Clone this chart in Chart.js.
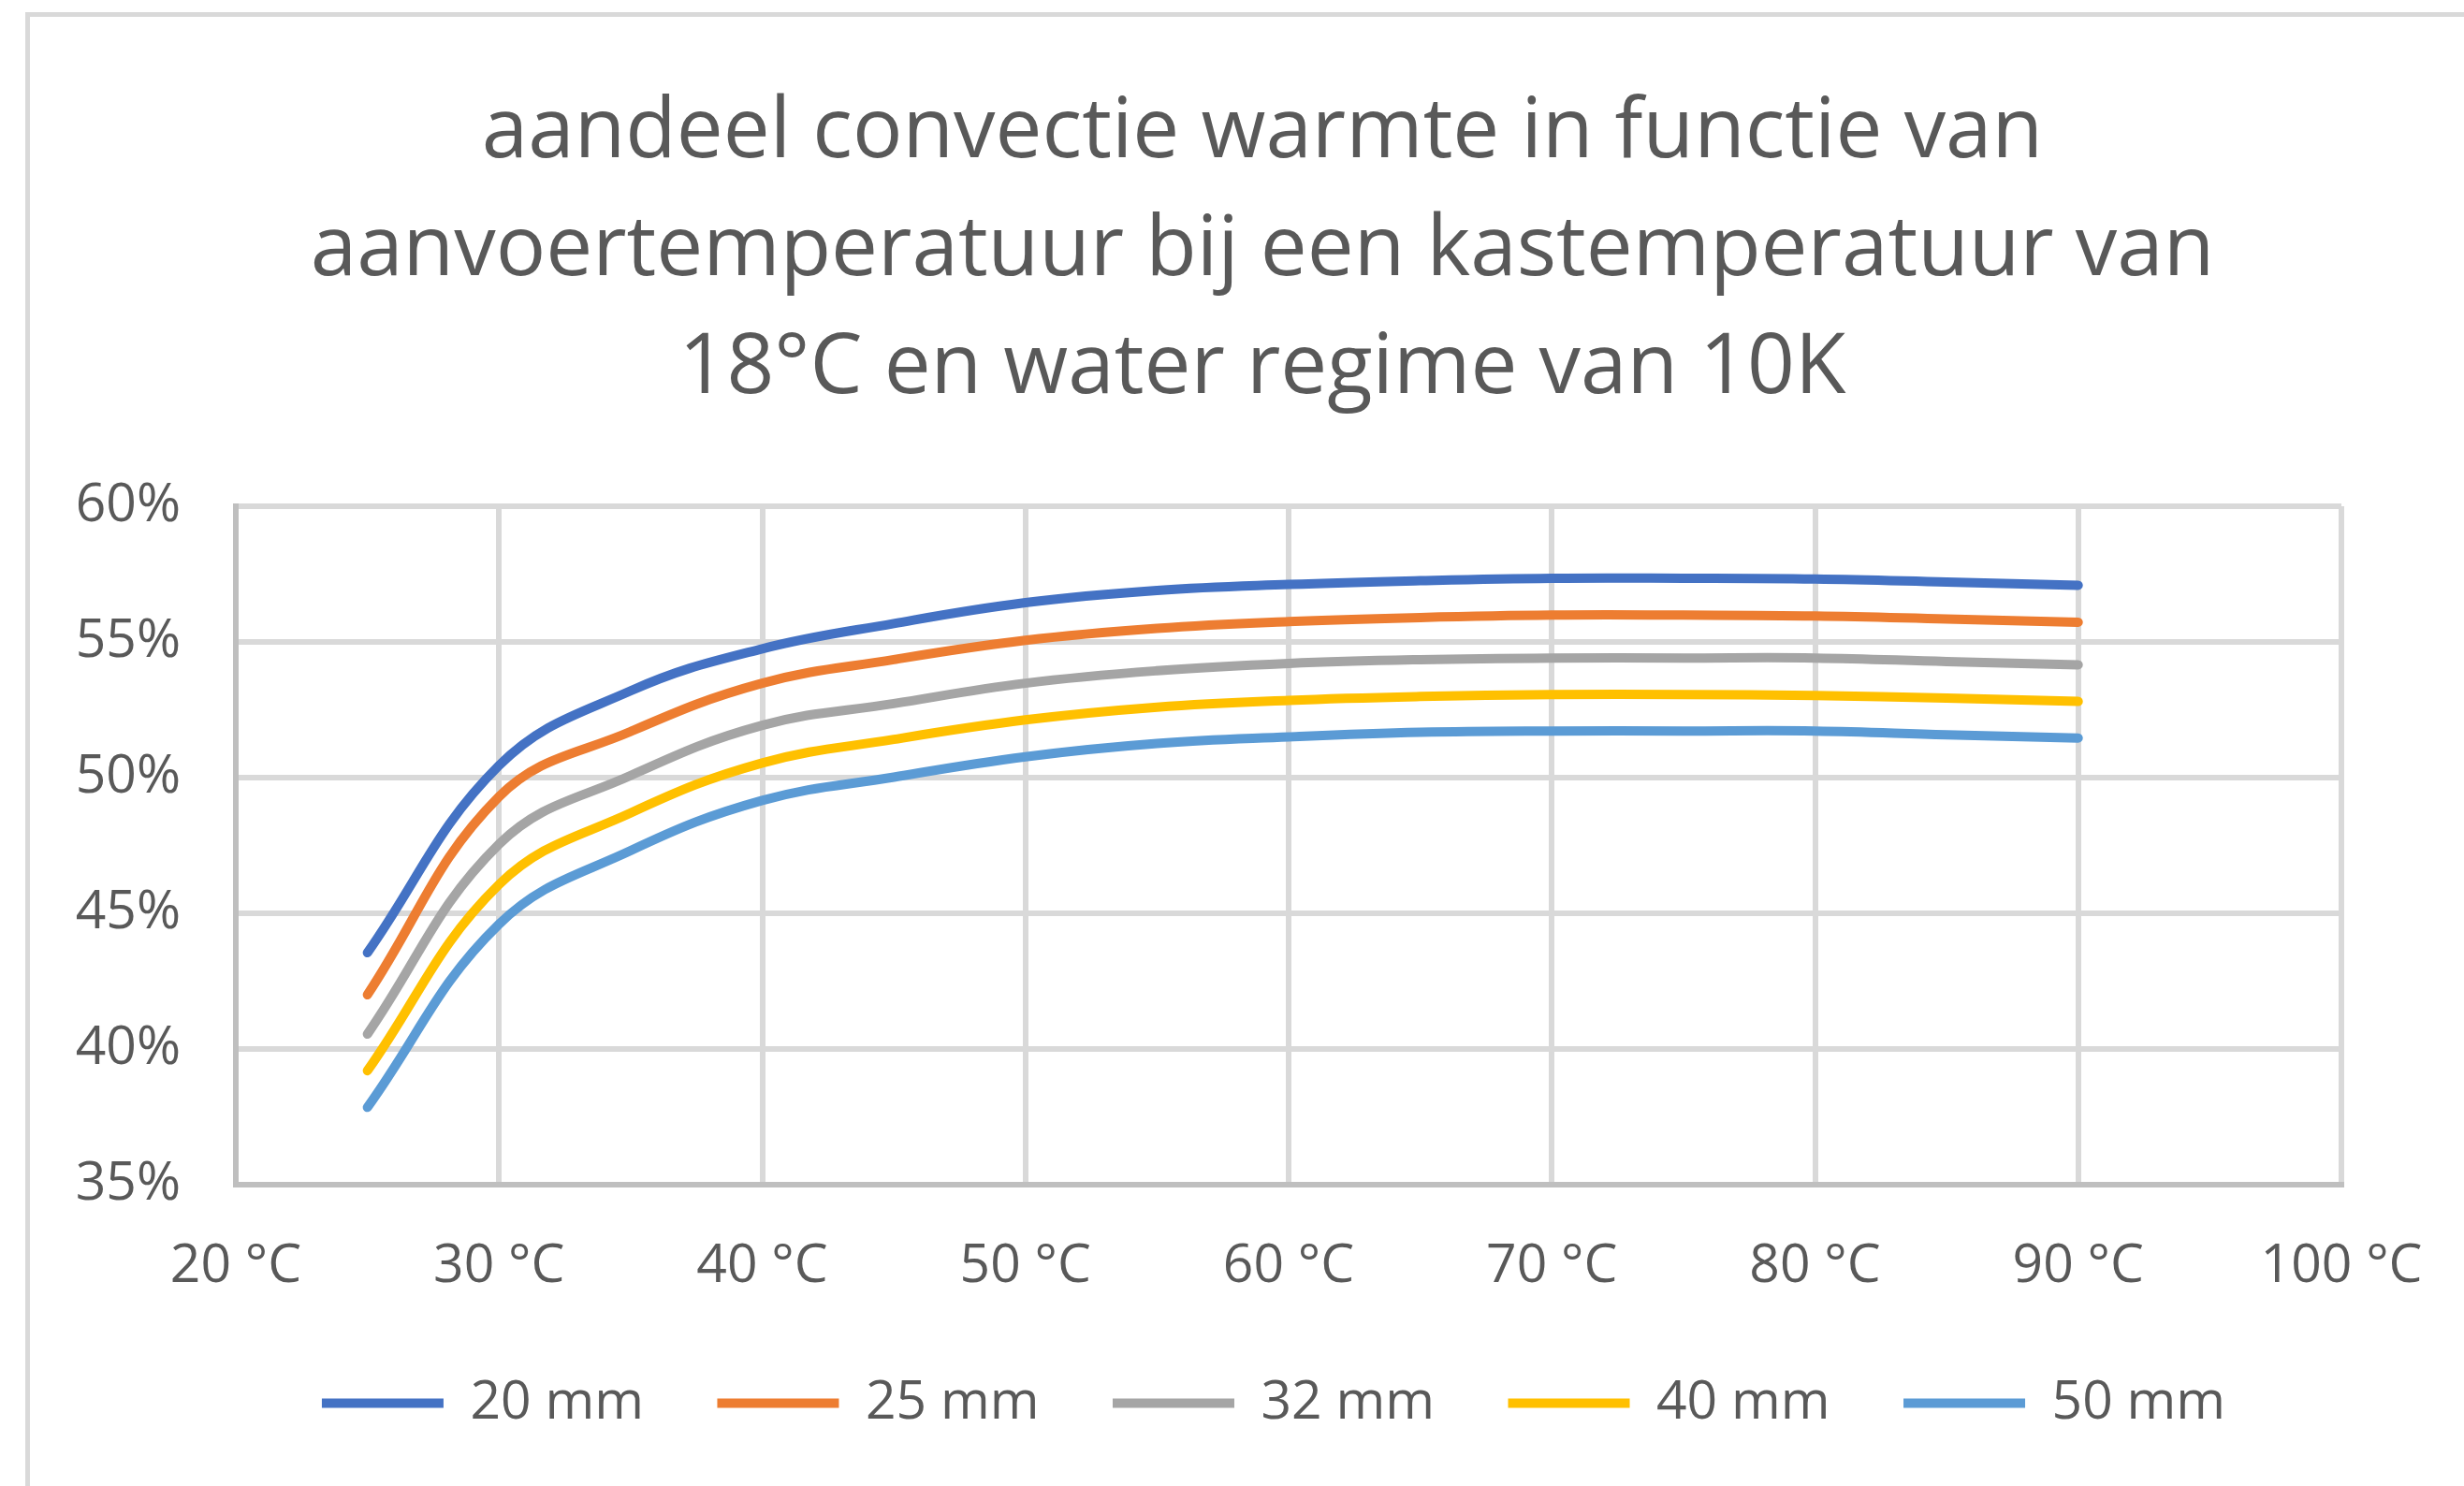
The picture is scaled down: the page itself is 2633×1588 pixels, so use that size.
<!DOCTYPE html>
<html>
<head>
<meta charset="utf-8">
<script src="https://cdn.jsdelivr.net/npm/chart.js@4"></script>
<style>
  html, body { margin: 0; padding: 0; background: #ffffff; overflow: hidden; }
  #frame {
    position: absolute; left: 27px; top: 13px;
    width: 2720px; height: 1720px;
    border: 5px solid #d9d9d9; box-sizing: border-box; background: #ffffff;
  }
  #chart { position: absolute; left: 0; top: 0; }
</style>
</head>
<body>
<div id="frame"></div>
<canvas id="chart" width="2633" height="1640"></canvas>
<script>
// Supply temperature (°C)
const temps = [25, 30, 35, 40, 45, 50, 55, 60, 65, 70, 75, 80, 85, 90];

// Share of convective heat (%) per pipe size
const share20 = [43.55, 50.45, 53.2, 54.75, 55.68, 56.45, 56.9, 57.12, 57.26, 57.35, 57.35, 57.32, 57.21, 57.09];
const share25 = [42.0, 49.3, 51.7, 53.48, 54.35, 55.06, 55.5, 55.75, 55.9, 55.99, 55.99, 55.96, 55.85, 55.73];
const share32 = [40.55, 47.55, 50.08, 51.93, 52.73, 53.48, 53.94, 54.21, 54.35, 54.41, 54.41, 54.41, 54.28, 54.16];
const share40 = [39.2, 46.06, 48.7, 50.54, 51.41, 52.13, 52.6, 52.85, 52.99, 53.06, 53.06, 53.03, 52.93, 52.81];
const share50 = [37.85, 44.6, 47.31, 49.16, 50.02, 50.77, 51.26, 51.5, 51.67, 51.72, 51.72, 51.72, 51.58, 51.46];

const seriesNames = ['20 mm', '25 mm', '32 mm', '40 mm', '50 mm'];
const seriesColors = ['#4472C4', '#ED7D31', '#A5A5A5', '#FFC000', '#5B9BD5'];
const seriesValues = [share20, share25, share32, share40, share50];

const titleLines = [
  'aandeel convectie warmte in functie van',
  'aanvoertemperatuur bij een kastemperatuur van',
  '18°C en water regime van 10K'
];

const textColor = '#595959';
const gridColor = '#d9d9d9';
const axisColor = '#bfbfbf';

Chart.defaults.font.family = "'Open Sans', 'DejaVu Sans', sans-serif";
Chart.defaults.color = textColor;

const datasets = seriesNames.map((name, i) => ({
  label: name,
  data: temps.map((t, j) => ({ x: t, y: seriesValues[i][j] })),
  borderColor: seriesColors[i],
  backgroundColor: seriesColors[i],
  borderWidth: 10,
  borderCapStyle: 'round',
  borderJoinStyle: 'round',
  pointRadius: 0,
  pointHoverRadius: 0,
  tension: 0.4,
  fill: false
}));

// Nudge the legend row slightly to the right of the centred position
const legendShift = {
  id: 'legendShift',
  afterLayout(chart) {
    if (chart.legend) {
      chart.legend.left += 12;
      chart.legend.right += 12;
    }
  }
};

new Chart(document.getElementById('chart'), {
  type: 'line',
  data: { datasets },
  plugins: [legendShift],
  options: {
    responsive: false,
    animation: false,
    devicePixelRatio: 1,
    layout: { padding: { left: 70, right: 5, top: 0, bottom: 102 } },
    plugins: {
      title: {
        display: true,
        text: titleLines,
        color: textColor,
        font: { size: 89, weight: 'normal', lineHeight: 1.416 },
        padding: { top: 80, bottom: 83 }
      },
      legend: {
        position: 'bottom',
        labels: {
          color: textColor,
          font: { size: 57 },
          boxWidth: 130,
          boxHeight: 10,
          padding: 78.5,
          generateLabels(chart) {
            const items = Chart.defaults.plugins.legend.labels.generateLabels(chart);
            items.forEach(it => { it.lineWidth = 0; });
            return items;
          }
        }
      },
      tooltip: { enabled: false }
    },
    scales: {
      x: {
        type: 'linear',
        min: 20,
        max: 100,
        afterFit(scale) { scale.height = 126.5; scale.paddingRight = 131; },
        ticks: {
          stepSize: 10,
          padding: 0,
          font: { size: 57 },
          color: textColor,
          callback: v => v + ' °C'
        },
        grid: { color: gridColor, lineWidth: 6, drawTicks: true, tickLength: 54, tickColor: 'rgba(0,0,0,0)' },
        border: { display: true, color: axisColor, width: 6 }
      },
      y: {
        min: 35,
        max: 60,
        afterFit(scale) { scale.width = 182; },
        ticks: {
          stepSize: 5,
          padding: 0,
          font: { size: 57 },
          color: textColor,
          callback: v => v + '%'
        },
        grid: { color: gridColor, lineWidth: 6, drawTicks: true, tickLength: 59, tickColor: 'rgba(0,0,0,0)' },
        border: { display: true, color: axisColor, width: 6 }
      }
    }
  }
});
</script>
</body>
</html>
